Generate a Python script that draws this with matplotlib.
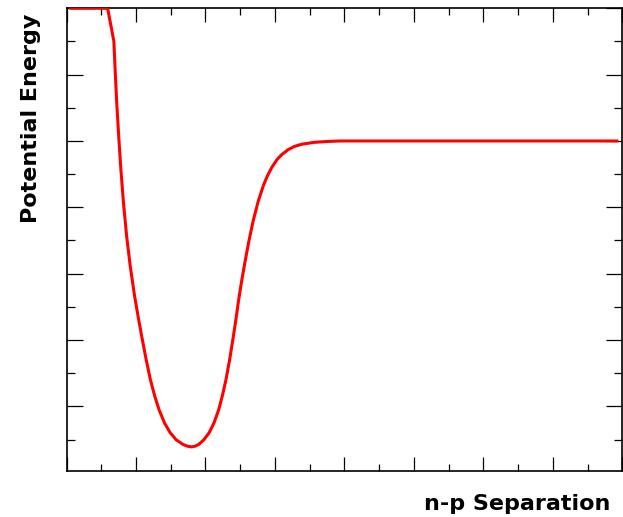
import matplotlib
matplotlib.use("Agg")
import matplotlib.pyplot as plt
from matplotlib.ticker import MultipleLocator, NullFormatter

# Curve (x in major-tick units, y: 0 = asymptote, top clipped at 2)
separation = [0.040, 0.592, 0.682, 0.700, 0.723, 0.751, 0.783, 0.820, 0.866, 0.917,
              0.981, 1.039, 1.092, 1.147, 1.208, 1.272, 1.333, 1.412, 1.494, 1.580,
              1.674, 1.739, 1.799, 1.853, 1.904, 1.976, 2.052, 2.122, 2.190, 2.241,
              2.295, 2.348, 2.394, 2.438, 2.478, 2.524, 2.575, 2.629, 2.691, 2.759,
              2.838, 2.889, 2.950, 3.029, 3.096, 3.190, 3.283, 3.391, 3.563, 3.743,
              3.930, 7.943]
energy = [2.0, 2.0, 1.502, 1.075, 0.573, 0.080, -0.433, -0.931, -1.439, -1.881,
          -2.344, -2.695, -2.997, -3.298, -3.600, -3.852, -4.053, -4.253, -4.400, -4.505,
          -4.573, -4.600, -4.611, -4.600, -4.573, -4.505, -4.400, -4.253, -4.053, -3.852,
          -3.600, -3.298, -2.997, -2.695, -2.394, -2.092, -1.790, -1.489, -1.187, -0.911,
          -0.659, -0.534, -0.407, -0.282, -0.207, -0.131, -0.081, -0.048, -0.021, -0.008,
          0.0, 0.0]

xlabel_text = "n-p Separation"
ylabel_text = "Potential Energy"

W, H = 623, 517
fig = plt.figure(figsize=(W / 100, H / 100), dpi=100)
fig.patch.set_facecolor("white")
ax = fig.add_axes([66.5 / W, 1 - 470.7 / H, (622.3 - 66.5) / W, (470.7 - 8.3) / H])

ax.plot(separation, energy, color="#ff0000", lw=2.2, solid_joinstyle="round",
        solid_capstyle="butt", zorder=3)

ax.set_xlim(0, 8)
ax.set_ylim(-4.97, 2.0)

ax.xaxis.set_major_locator(MultipleLocator(1))
ax.xaxis.set_minor_locator(MultipleLocator(0.5))
ax.yaxis.set_major_locator(MultipleLocator(1))
ax.yaxis.set_minor_locator(MultipleLocator(0.5))
ax.xaxis.set_major_formatter(NullFormatter())
ax.yaxis.set_major_formatter(NullFormatter())

ax.tick_params(axis="both", which="both", direction="in", top=True, right=True,
               color="black", width=0.9)
ax.tick_params(axis="x", which="major", length=10)
ax.tick_params(axis="x", which="minor", length=5)
ax.tick_params(axis="y", which="major", length=11.5)
ax.tick_params(axis="y", which="minor", length=5.8)

for s in ax.spines.values():
    s.set_linewidth(1.2)
    s.set_color("black")

fig.text(610.7 / W, 6.7 / H, xlabel_text, ha="right", va="baseline",
         fontsize=16, fontweight="bold", family="DejaVu Sans")
fig.text(36.7 / W, 1 - 13.3 / H, ylabel_text, rotation=90, rotation_mode="anchor",
         ha="right", va="baseline", fontsize=16, fontweight="bold", family="DejaVu Sans")

fig.savefig("out.png", dpi=100, facecolor="white")
